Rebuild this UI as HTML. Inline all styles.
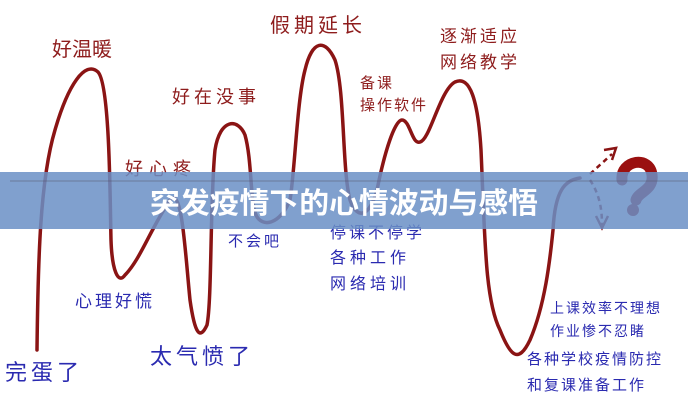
<!DOCTYPE html>
<html><head><meta charset="utf-8"><style>
html,body{margin:0;padding:0;background:#fff;}
svg{display:block;}
.r{fill:#8e1c1c;font-family:"Liberation Sans","WenQuanYi Zen Hei","Noto Sans CJK SC",sans-serif;}
.b{fill:#2a2ab0;font-family:"Liberation Sans","WenQuanYi Zen Hei","Noto Sans CJK SC",sans-serif;}
</style></head><body>
<svg width="688" height="400" viewBox="0 0 688 400" xmlns="http://www.w3.org/2000/svg">
<rect width="688" height="400" fill="#fff"/>
<path d="M37,350 C38,260 40,180 55,130 C68,85 85,60 98,72 C110,85 110,200 111,240 C112,270 118,285 125,275 C140,260 150,230 170,200 C182,185 185,250 190,300 C195,335 200,340 207,325 C212,300 210,200 215,150 C220,118 238,118 245,135 C252,160 250,200 256,215 C262,228 280,225 290,200 C295,170 297,100 305,70 C312,40 325,38 335,60 C345,90 342,170 350,200 C358,222 370,215 377,190 C385,150 395,120 402,120 C410,120 412,145 420,142 C430,140 440,90 455,82 C470,75 478,100 481,150 C485,240 485,300 500,330 C510,355 518,365 530,340 C545,305 550,260 553,230 C555,190 565,180 580,178" fill="none" stroke="#8a1414" stroke-width="3.5" stroke-linecap="round"/>
<path d="M590,174 L612,154" stroke="#8a1414" stroke-width="2.5" stroke-dasharray="5,4" fill="none"/>
<path d="M604,150 L616,148 L612,160" stroke="#8a1414" stroke-width="2.5" fill="none"/>
<path d="M590,180 C600,195 602,210 602,225" stroke="#8a1414" stroke-width="2.5" stroke-dasharray="5,4" fill="none"/>
<path d="M596,216 L602,228 L608,216" stroke="#8a1414" stroke-width="2.5" fill="none"/>
<path d="M622,180 C620,160 650,155 652,175 C654,190 638,192 636,200" stroke="#9a1010" stroke-width="11" fill="none" stroke-linecap="round"/>
<circle cx="633" cy="210" r="6" fill="#9a1010"/>
<g font-size="20">
<text class="r" x="52" y="56">好温暖</text>
<text class="r" x="270" y="32" letter-spacing="4">假期延长</text>
<text class="r" x="440" y="42" font-size="17" letter-spacing="3">逐渐适应</text>
<text class="r" x="440" y="68" font-size="17" letter-spacing="3">网络教学</text>
<text class="r" x="360" y="88" font-size="15" letter-spacing="2">备课</text>
<text class="r" x="360" y="110" font-size="15" letter-spacing="2">操作软件</text>
<text class="r" x="172" y="103" font-size="18" letter-spacing="4">好在没事</text>
<text class="r" x="125" y="175" font-size="18" letter-spacing="6">好心疼</text>
<text class="b" x="228" y="246" font-size="15" letter-spacing="3">不会吧</text>
<text class="b" x="330" y="238" font-size="16" letter-spacing="3">停课不停学</text>
<text class="b" x="330" y="263" font-size="16" letter-spacing="4">各种工作</text>
<text class="b" x="330" y="289" font-size="16" letter-spacing="4">网络培训</text>
<text class="b" x="75" y="307" font-size="17" letter-spacing="3">心理好慌</text>
<text class="b" x="150" y="364" font-size="22" letter-spacing="4">太气愤了</text>
<text class="b" x="5" y="380" font-size="22" letter-spacing="4">完蛋了</text>
<text class="b" x="550" y="313" font-size="14" letter-spacing="2">上课效率不理想</text>
<text class="b" x="550" y="336" font-size="14" letter-spacing="2">作业惨不忍睹</text>
<text class="b" x="527" y="364" font-size="15" letter-spacing="2">各种学校疫情防控</text>
<text class="b" x="527" y="390" font-size="15" letter-spacing="2">和复课准备工作</text>
</g>
<rect x="0" y="172" width="688" height="57" fill="#6a8fc5" fill-opacity="0.85"/>
<line x1="10" y1="181" x2="688" y2="181" stroke="#556" stroke-width="1" opacity="0.5"/>
<text x="344" y="213" text-anchor="middle" fill="#fff" font-size="29" font-weight="bold" font-family="'Liberation Sans','Noto Sans CJK SC',sans-serif" textLength="388" lengthAdjust="spacingAndGlyphs">突发疫情下的心情波动与感悟</text>
</svg>
</body></html>
